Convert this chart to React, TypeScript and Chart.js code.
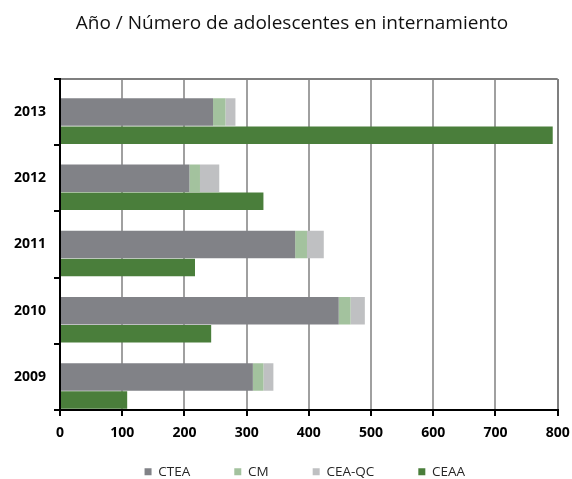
import React, { useEffect, useRef } from 'react';
import { Chart, registerables } from 'chart.js';

Chart.register(...registerables);

const titleText = 'Año / Número de adolescentes en internamiento';
const categories = ['2013', '2012', '2011', '2010', '2009'];
const cteaValues = [246, 208, 378, 448, 310];
const cmValues = [20, 17, 19, 19, 17];
const ceaQcValues = [16, 31, 27, 23, 16];
const ceaaValues = [792, 327, 217, 243, 108];
const xTickValues = [0, 100, 200, 300, 400, 500, 600, 700, 800];

const FONT = '"Open Sans"';

// Places the legend row lower inside its own box (legend box height shortened for layout).
const legendPlace = {
  id: 'legendPlace',
  afterLayout(chart: any) {
    const l = chart.legend;
    if (!l) return;
    l.top = chart.height - 58;
    l.bottom = chart.height;
    l.height = 58;
    l.left = chart.chartArea.left - 8;
    l.width = l.right - l.left;
  },
};

export default function App() {
  const canvasRef = useRef<HTMLCanvasElement | null>(null);

  useEffect(() => {
    if (!canvasRef.current) return;
    const grayStack = { stack: 'a', grouped: false, categoryPercentage: 1, barPercentage: 0.416, borderWidth: 0 };
    const chart = new Chart(canvasRef.current, {
      type: 'bar',
      data: {
        labels: categories,
        datasets: [
          { label: 'CTEA', data: cteaValues, backgroundColor: '#818287', ...grayStack },
          { label: 'CM', data: cmValues, backgroundColor: '#a3c29e', ...grayStack },
          { label: 'CEA-QC', data: ceaQcValues, backgroundColor: '#bfc0c2', ...grayStack },
          {
            label: '',
            data: categories.map(() => null),
            backgroundColor: 'rgba(0,0,0,0)',
            stack: 'z',
            grouped: true,
            categoryPercentage: 1.392,
            barPercentage: 0.38,
            borderWidth: 0,
          },
          {
            label: 'CEAA',
            data: ceaaValues,
            backgroundColor: '#4a7e3b',
            stack: 'b',
            grouped: true,
            categoryPercentage: 1.392,
            barPercentage: 0.38,
            borderWidth: 0,
          },
        ] as any,
      },
      options: {
        indexAxis: 'y',
        responsive: false,
        animation: false,
        layout: { padding: { left: 12, right: 0, top: 0, bottom: 0 } },
        plugins: {
          title: {
            display: true,
            text: titleText,
            color: '#111111',
            font: { family: FONT, size: 19, weight: 'normal' },
            padding: { top: 12, bottom: 44.2 },
          },
          legend: {
            position: 'bottom',
            fullSize: false,
            maxHeight: 37,
            labels: {
              boxWidth: 7,
              boxHeight: 7,
              padding: 44,
              color: '#262626',
              font: { family: FONT, size: 13.5 },
              filter: (item: any) => item.text !== '',
            },
          },
          tooltip: { enabled: false },
        },
        scales: {
          x: {
            stacked: true,
            min: 0,
            max: 800,
            afterBuildTicks: (s: any) => {
              s.ticks = xTickValues.map((v) => ({ value: v }));
            },
            ticks: {
              color: '#000',
              font: { family: FONT, size: 14, weight: 'bold' },
              padding: 9,
              maxRotation: 0,
              autoSkip: false,
            },
            grid: {
              color: (ctx: any) => (ctx.tick && ctx.tick.value === 800 ? '#7f7f7f' : '#a0a0a0'),
              tickColor: '#000',
              lineWidth: 2,
              tickLength: 6,
            },
            border: { color: '#000', width: 2 },
            afterFit: (s: any) => {
              s.height = 32;
              s.paddingRight = 14.3;
            },
          },
          y: {
            stacked: true,
            z: 1,
            ticks: {
              color: '#000',
              font: { family: FONT, size: 14, weight: 'bold' },
              padding: 8,
            },
            grid: {
              offset: true,
              color: (ctx: any) => (ctx.index === 0 ? '#7f7f7f' : 'rgba(0,0,0,0)'),
              tickColor: '#000',
              lineWidth: 2,
              tickLength: 6,
            },
            border: { color: '#000', width: 2 },
            afterFit: (s: any) => {
              s.width = 48;
            },
          },
        },
      } as any,
      plugins: [legendPlace],
    });
    return () => chart.destroy();
  }, []);

  return (
    <div style={{ position: 'fixed', left: 0, top: 0, width: 572, height: 479, background: '#fff' }}>
      <canvas ref={canvasRef} width={572} height={479} style={{ display: 'block' }} />
    </div>
  );
}
